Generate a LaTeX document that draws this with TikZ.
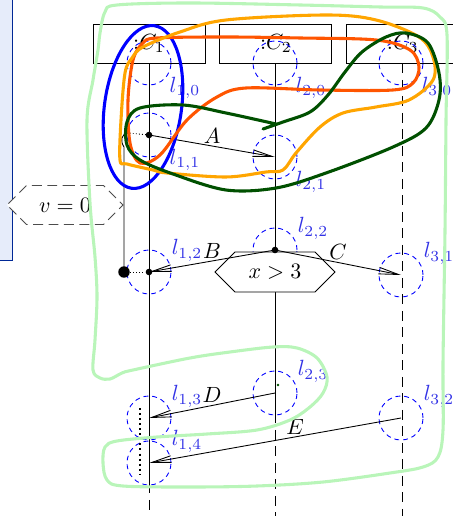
\documentclass[tikz,border=0pt]{standalone}
\usepackage{tikz}
\usetikzlibrary{arrows.meta,shapes.symbols,positioning}

\definecolor{panelfill}{RGB}{230,236,250}
\definecolor{paneldraw}{RGB}{0,40,150}
\definecolor{lasso}{RGB}{185,245,185}
\definecolor{redloop}{RGB}{255,85,0}
\definecolor{orangeloop}{RGB}{255,165,0}
\definecolor{greenloop}{RGB}{0,80,0}
\definecolor{loclbl}{RGB}{50,50,230}

\tikzset{
  inst/.style={draw, minimum width=50.9pt, minimum height=17.7pt, inner sep=0pt},
  loc/.style={draw=blue, dash pattern=on 2.2pt off 1.8pt, circle, minimum size=20pt, inner sep=0pt},
  lbl/.style={text=loclbl, inner sep=1pt},
  msg/.style={-{Straight Barb[length=9pt,width=3pt]}},
  mlbl/.style={above, inner sep=1pt},
  cond/.style={signal, signal to=west and east, signal pointer angle=90, fill=white, inner sep=0pt},
  life/.style={dash pattern=on 4.5pt off 3pt},
  pen/.style={line width=1.4pt, line cap=round, line join=round}
}

\begin{document}
\begin{tikzpicture}[x=0.4545pt, y=-0.4545pt]
  \useasboundingbox (0,0) rectangle (452,516);
  % side panel
  \fill[panelfill] (-20,-20) rectangle (12,260);
  \draw[paneldraw] (12,-20) -- (12,260) -- (-20,260);

  % instances
  \node[inst] (c1) at (149,43.5) {:$C_1$};
  \node[inst, right=6.36pt of c1] (c2) {:$C_2$};
  \node[inst, right=6.36pt of c2] (c3) {:$C_3$};
  \draw (c1.south) -- ++(0,420) coordinate (c1e);
  \draw[life] (c1e) -- ++(0,50);
  \draw (c2.south) -- ++(0,350) coordinate (c2e);
  \draw[life] (c2e) -- ++(0,120);
  \draw[life] (c3.south) -- ++(0,470);

  % locations
  \foreach \i/\j/\x/\y in {1/0/149/63, 1/1/149/135, 2/0/275/63, 2/1/275/157, 3/0/401/63}
    \node[loc, label={[lbl, xshift=1pt, yshift=2pt]below right:$l_{\i,\j}$}] (l\i\j) at (\x,\y) {};
  \foreach \i/\j/\x/\y in {2/2/275/250, 1/2/149/272, 3/1/401/275, 2/3/275/393, 1/3/149/418, 3/2/401/418, 1/4/149/463}
    \node[loc, label={[lbl, xshift=2pt, yshift=-3.5pt]above right:$l_{\i,\j}$}] (l\i\j) at (\x,\y) {};

  % conditions
  \node[cond, draw, minimum width=54.5pt, minimum height=18.2pt] (cx) at (275,272) {$x > 3$};
  \node[cond, draw=black!70, dash pattern=on 4.5pt off 2.5pt, minimum width=52.7pt, minimum height=17.7pt] (cv) at (65,205) {$v = 0$};

  % messages
  \draw[msg] (l11.center) to node[mlbl] {$A$} (l21.center);
  \draw[msg] (l22.center) to node[mlbl] {$B$} (l12.center);
  \draw[msg] (l22.center) to node[mlbl] {$C$} (l31.center);
  \draw[msg] (l23.center) to node[mlbl] {$D$} (l13.center);
  \draw[msg] (l32.center) to node[mlbl, pos=0.42] {$E$} (l14.center);

  \foreach \n in {l11,l22,l12}
    \fill (\n) circle[radius=1.5pt];
  \node[circle, fill, minimum size=5.2pt, inner sep=0pt] (v) at (124,272) {};
  \coordinate (curl) at (128,133);
  \draw[densely dotted] (v) -- (l12.center);
  \draw[densely dotted] (l11.center) -- (curl);
  \draw (v.center) -- (124,147) .. controls (120,141) and (121,134) .. (curl);
  \draw[line width=0.9pt, dash pattern=on 0.9pt off 1.4pt] (140,408) -- (140,475);

  % pen strokes
  \draw[pen, lasso] plot[smooth cycle, tension=0.55] coordinates {
    (100,33) (105,12) (117,5) (190,3) (300,5) (380,7) (423,8) (440,17) (447,35)
    (446,120) (445,230) (443,363) (443,430) (438,457) (423,467) (390,473) (323,482)
    (257,486) (190,487) (123,486) (107,480) (103,463) (105,447) (117,441) (157,437)
    (207,434) (257,430) (290,420) (310,407) (323,393) (327,377) (317,358) (297,348)
    (273,347) (230,352) (190,358) (133,370) (122,373) (110,379) (100,378) (93,370)
    (95,340) (97,297) (95,257) (90,203) (87,120) (93,80) (98,50)};
  \draw[pen, blue, rotate around={-8:(143,107)}] (143,107) ellipse[x radius=17.5pt, y radius=37.3pt];
  \draw[pen, redloop] plot[smooth cycle, tension=0.55] coordinates {
    (157,38) (226,37) (300,38) (376,40) (410,50) (419,67) (413,83) (393,90) (320,90)
    (246,88) (217,97) (187,120) (160,155) (140,163) (130,143) (128,100) (133,60) (143,43)};
  \draw[pen, orangeloop] plot[smooth cycle, tension=0.55] coordinates {
    (226,20) (180,32) (143,47) (132,58) (125,73) (121,120) (120,160) (127,164)
    (153,170) (167,173) (226,177) (266,172) (283,170) (296,153) (320,127) (343,113)
    (376,107) (409,100) (433,80) (433,57) (419,37) (376,20) (326,15)};
  \draw[pen, greenloop] plot[smooth, tension=0.55] coordinates {
    (263,129) (283,122) (310,112) (328,95) (345,72) (362,52) (386,37) (406,33)
    (428,43) (439,73) (439,100) (426,128) (393,147) (326,173) (276,188) (226,190)
    (173,174) (140,160) (127,145) (127,122) (140,108) (183,105) (226,113) (276,124)};
  \fill[greenloop] (278,385) circle[radius=0.6pt];
\end{tikzpicture}
\end{document}
